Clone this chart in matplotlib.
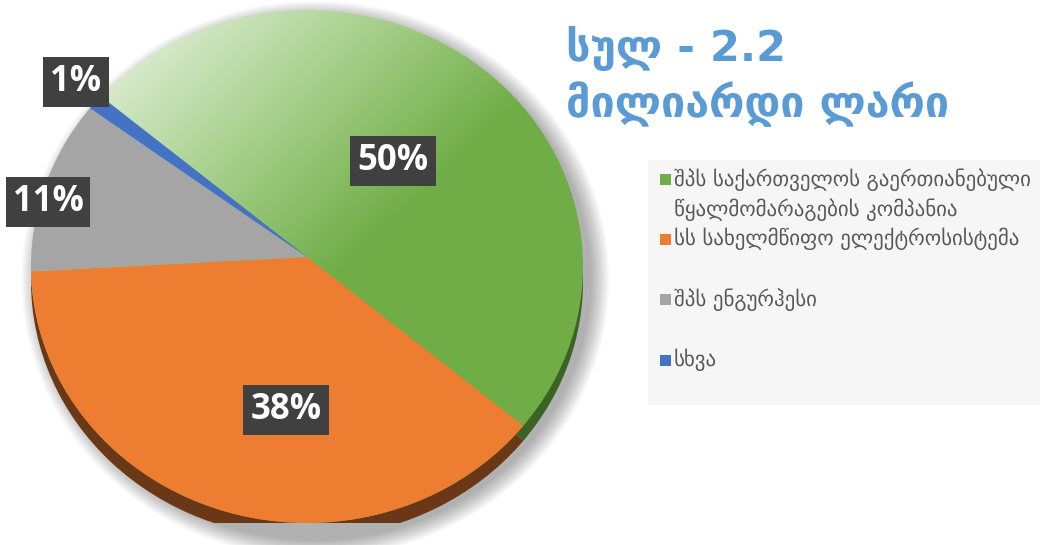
import numpy as np
import matplotlib
matplotlib.use("Agg")
import matplotlib.pyplot as plt
from matplotlib.patches import Ellipse, Rectangle
from matplotlib.path import Path
from matplotlib.colors import LinearSegmentedColormap

# data
labels = ["შპს საქართველოს გაერთიანებული\nწყალმომარაგების კომპანია",
          "სს სახელმწიფო ელექტროსისტემა",
          "შპს ენგურჰესი",
          "სხვა"]
shares = [50, 38, 11, 1]
pct_text = ["50%", "38%", "11%", "1%"]
colors = ["#70ad47", "#ed7d31", "#a5a5a5", "#4472c4"]
side_colors = ["#3b6424", "#6a3816", "#5e5e5e", "#27457a"]
title = "სულ - 2.2\nმილიარდი ლარი"

W, H = 1040, 545
fig = plt.figure(figsize=(W / 100, H / 100), dpi=100)

def fx(x):
    return x / W

def fy(y):
    return 1 - y / H

# pie axes: top face is an ellipse, the apex sits a bit above its centre (perspective)
cx, cy, rx, ry = 307, 266.5, 276, 256.5
apex = (0, 9.5 / ry)
depth = 15 / ry
ax = fig.add_axes([fx(cx - rx), fy(cy + ry), 2 * rx / W, 2 * ry / H])

# soft shadow
for i in range(14):
    e = Ellipse((0.03, -0.05), 2.0 + 0.01 * i, 2.04 + 0.01 * i,
                color="#000000", alpha=0.022, lw=0, clip_on=False, zorder=0.3)
    ax.add_patch(e)

circle = Path.unit_circle()

# side of the disc
side, _ = ax.pie(shares, colors=side_colors, startangle=140, counterclock=False,
                 center=(apex[0], apex[1] - depth), radius=1.2)
side_path = Path(circle.vertices + [0, -depth], circle.codes)
for w in side:
    w.set_zorder(0.5)
    w.set_clip_on(True)
    w.set_clip_path(side_path, ax.transData)

# green face with a light gradient toward the upper left, shown through the green wedge
cmap = LinearSegmentedColormap.from_list("g", ["#e2f0da", "#a9d18e", "#70ad47", "#70ad47"])
gx, gy = np.meshgrid(np.linspace(-1, 1, 400), np.linspace(-1, 1, 400))
grad = np.clip((gx - gy + 1.6) / 2.6, 0, 1)
im = ax.imshow(grad, extent=(-1, 1, -1, 1), origin="lower", cmap=cmap, zorder=0.9)
im.set_clip_path(circle, ax.transData)

wedges, _ = ax.pie(shares, colors=colors, startangle=140, counterclock=False,
                   center=apex, radius=1.2)
for w in wedges:
    w.set_clip_on(True)
    w.set_clip_path(circle, ax.transData)
wedges[0].set_facecolor("none")

ax.set_xlim(-1, 1)
ax.set_ylim(-1, 1)
ax.set_aspect("auto")
ax.axis("off")

# percentage labels
label_pos = [(393, 161), (286, 410), (48, 202), (76, 82)]
for t, (x, y) in zip(pct_text, label_pos):
    fig.text(fx(x), fy(y), t, ha="center", va="center", color="white",
             fontsize=25, fontweight="bold", family="Open Sans",
             bbox=dict(boxstyle="square,pad=0.2", fc="#404040", ec="none"))

# title
fig.text(fx(566), fy(26), title, ha="left", va="top", color="#5b9bd5",
         fontsize=31, fontweight="bold", family="DejaVu Sans", linespacing=1.3)

# legend
fig.patches.append(Rectangle((fx(648), fy(405)), 1 - fx(648), (405 - 160) / H,
                             transform=fig.transFigure, fc="#f6f6f6", ec="none"))
leg_y = [182, 242, 302, 363]
for lab, col, y in zip(labels, colors, leg_y):
    fig.patches.append(Rectangle((fx(660), fy(y + 3)), 11 / W, 11 / H,
                                 transform=fig.transFigure, fc=col, ec="none"))
    fig.text(fx(674), fy(y - 14), lab, ha="left", va="top", color="#595959",
             fontsize=15, family="DejaVu Sans", linespacing=1.45)

fig.savefig("out.png", dpi=100)
